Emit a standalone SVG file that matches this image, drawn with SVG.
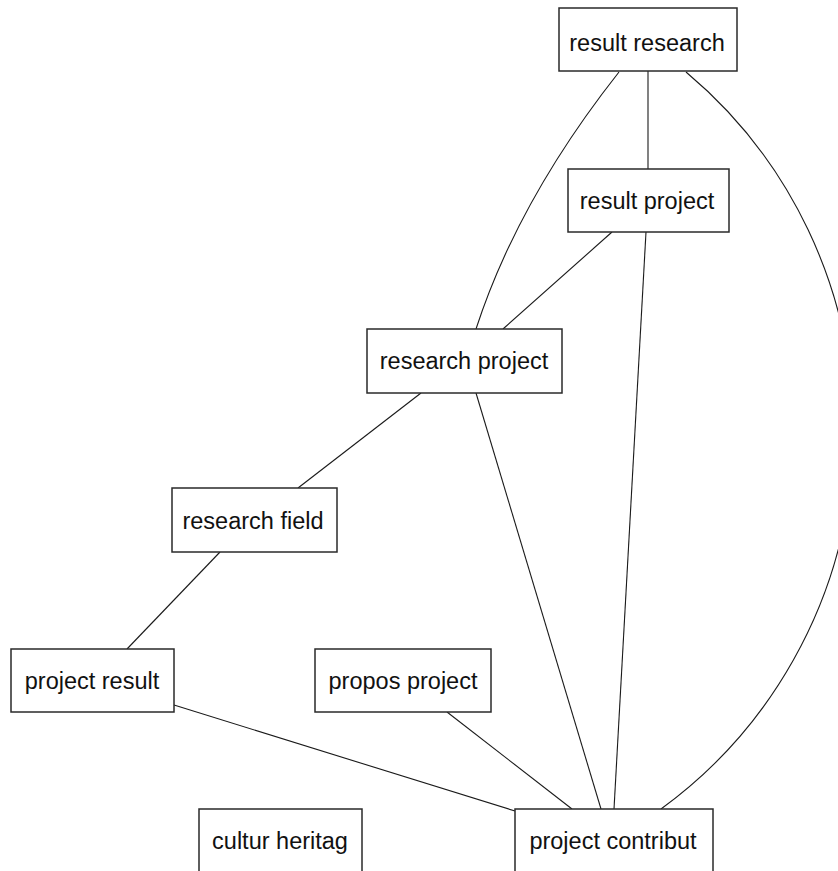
<svg xmlns="http://www.w3.org/2000/svg" width="838" height="871" viewBox="0 0 838 871">
  <style>
    .box { fill: #ffffff; stroke: #2a2a2a; stroke-width: 1.5; }
    .lbl { font-family: "Liberation Sans", Arial, sans-serif; font-size: 23.5px; fill: #111111; text-anchor: middle; }
    .edge { fill: none; stroke: #1a1a1a; stroke-width: 1.1; }
  </style>
  <rect x="0" y="0" width="838" height="871" fill="#ffffff"/>

  <!-- connectors -->
  <g id="edges">
    <line class="edge" x1="648" y1="71" x2="648" y2="169"/>
    <path class="edge" d="M619,72 Q518,200 476,329"/>
    <path class="edge" d="M686,72 A468,468 0 0 1 661,809"/>
    <line class="edge" x1="612" y1="232" x2="503" y2="329"/>
    <line class="edge" x1="646" y1="232" x2="614" y2="809"/>
    <line class="edge" x1="476" y1="393" x2="601" y2="809"/>
    <line class="edge" x1="421" y1="393" x2="298" y2="488"/>
    <line class="edge" x1="220" y1="552" x2="127" y2="649"/>
    <line class="edge" x1="174" y1="705" x2="515" y2="811"/>
    <line class="edge" x1="447" y1="712" x2="572" y2="809"/>
  </g>

  <!-- nodes -->
  <g id="result-research">
    <rect class="box" x="559" y="8" width="178" height="63"/>
    <text class="lbl" x="647" y="51">result research</text>
  </g>
  <g id="result-project">
    <rect class="box" x="568" y="169" width="161" height="63"/>
    <text class="lbl" x="647" y="209">result project</text>
  </g>
  <g id="research-project">
    <rect class="box" x="367" y="329" width="195" height="64"/>
    <text class="lbl" x="464" y="369">research project</text>
  </g>
  <g id="research-field">
    <rect class="box" x="172" y="488" width="165" height="64"/>
    <text class="lbl" x="253" y="529">research field</text>
  </g>
  <g id="project-result">
    <rect class="box" x="11" y="649" width="163" height="63"/>
    <text class="lbl" x="92" y="689">project result</text>
  </g>
  <g id="propos-project">
    <rect class="box" x="315" y="649" width="176" height="63"/>
    <text class="lbl" x="403" y="689">propos project</text>
  </g>
  <g id="cultur-heritag">
    <rect class="box" x="199" y="809" width="163" height="70"/>
    <text class="lbl" x="280" y="849">cultur heritag</text>
  </g>
  <g id="project-contribut">
    <rect class="box" x="515" y="809" width="198" height="70"/>
    <text class="lbl" x="613" y="849">project contribut</text>
  </g>
</svg>
